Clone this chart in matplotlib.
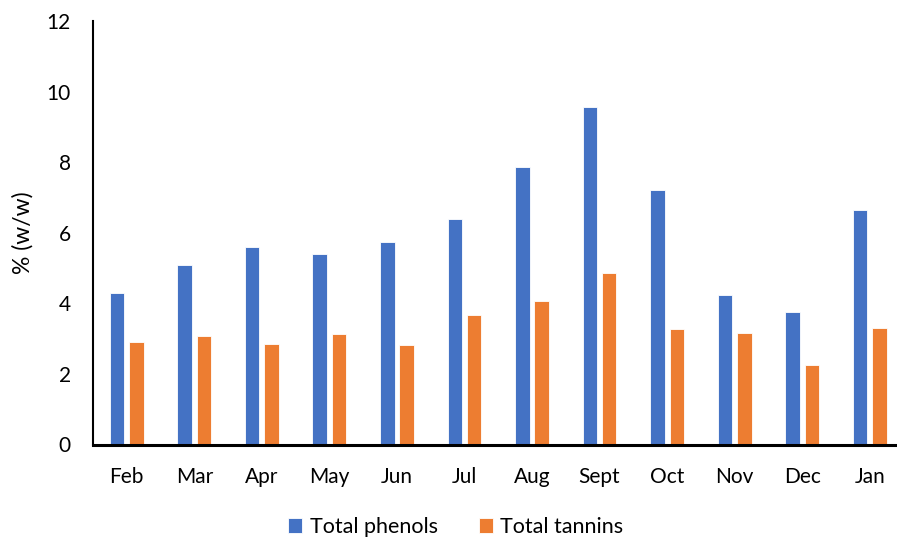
import numpy as np
import matplotlib
matplotlib.use("Agg")
import matplotlib.pyplot as plt

months = ["Feb", "Mar", "Apr", "May", "Jun", "Jul", "Aug", "Sept", "Oct", "Nov", "Dec", "Jan"]
total_phenols = [4.29, 5.08, 5.59, 5.40, 5.75, 6.38, 7.85, 9.57, 7.22, 4.24, 3.75, 6.64]
total_tannins = [2.91, 3.08, 2.85, 3.13, 2.81, 3.68, 4.08, 4.85, 3.27, 3.17, 2.25, 3.30]

plt.rcParams["font.family"] = ["Lato", "DejaVu Sans"]

fig = plt.figure(figsize=(8.97, 5.40), dpi=100)
ax = fig.add_axes([93 / 897, 95.5 / 540, 810.5 / 897, 423.5 / 540])

x = np.arange(len(months))
width = 0.215
offset = 0.143
ax.bar(x - offset, total_phenols, width, color="#4472C4", edgecolor="white",
       linewidth=0.6, label="Total phenols", zorder=2)
ax.bar(x + offset, total_tannins, width, color="#ED7D31", edgecolor="white",
       linewidth=0.6, label="Total tannins", zorder=2)

ax.set_xlim(-0.5, len(months) - 0.5)
ax.set_ylim(0, 12)
ax.set_yticks(range(0, 13, 2))
ax.set_xticks(x)
ax.set_xticklabels(months)
ax.tick_params(axis="both", length=0, labelsize=15, colors="black")
ax.tick_params(axis="y", pad=16)
ax.tick_params(axis="x", pad=16)

for side in ("top", "right"):
    ax.spines[side].set_visible(False)
ax.spines["left"].set_linewidth(1.5)
ax.spines["bottom"].set_linewidth(2.2)

ax.set_ylabel("% (w/w)", fontsize=16.5, labelpad=9)

ax.legend(loc="center", bbox_to_anchor=(456 / 897, 13 / 540),
          bbox_transform=fig.transFigure, ncol=2, frameon=False, fontsize=15.5,
          handlelength=0.65, handleheight=0.65, handletextpad=0.35,
          columnspacing=1.9, borderpad=0)

fig.savefig("out.png", dpi=100)
